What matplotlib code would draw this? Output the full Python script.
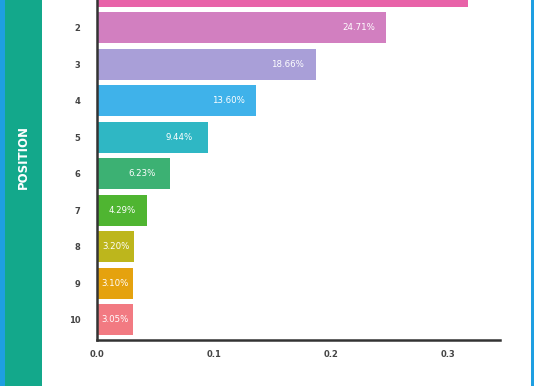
import matplotlib
matplotlib.use("Agg")
import matplotlib.pyplot as plt
from matplotlib.patches import Rectangle

# positions 1..10 and their share
positions = [1, 2, 3, 4, 5, 6, 7, 8, 9, 10]
shares = [0.3167, 0.2471, 0.1866, 0.1360, 0.0944, 0.0623, 0.0429, 0.0320, 0.0310, 0.0305]
labels = ["31.67%", "24.71%", "18.66%", "13.60%", "9.44%", "6.23%", "4.29%", "3.20%", "3.10%", "3.05%"]
colors = ["#e862a8", "#d27fc0", "#a99fd8", "#3fb2ea", "#2fb7c4",
          "#3cb173", "#4fb531", "#bdb61c", "#e5a20e", "#f27a82"]
xticks = [0.0, 0.1, 0.2, 0.3]

YLIM = (10.55, 1.233)   # the top bar is cut by the crop

fig = plt.figure(figsize=(5.36, 3.86), dpi=100)
fig.patch.set_facecolor("white")

# side decoration: blue strip, teal band with vertical title, blue line on the right
fig.add_artist(Rectangle((0, 0), 5 / 536, 1, transform=fig.transFigure,
                         facecolor="#1e9fe2", edgecolor="none"))
fig.add_artist(Rectangle((5 / 536, 0), 37 / 536, 1, transform=fig.transFigure,
                         facecolor="#13a88b", edgecolor="none"))
fig.add_artist(Rectangle((531 / 536, 0), 3 / 536, 1, transform=fig.transFigure,
                         facecolor="#1e9fe2", edgecolor="none"))
fig.text(23 / 536, 1 - 157 / 386, "POSITION", rotation=90, color="white",
         fontsize=8.5, fontweight="bold", ha="center", va="center")

ax = fig.add_axes([97 / 536, 46 / 386, 403 / 536, 340 / 386])
ax.barh(positions, shares, height=0.85, color=colors)
for p, v, lab in zip(positions, shares, labels):
    if p < YLIM[1] + 0.3:
        continue  # label of the cropped bar is outside the picture
    ax.text(max(v - 0.024, v / 2), p, lab, color="white", fontsize=6.2,
            ha="center", va="center")

ax.set_yticks(positions[1:])
ax.set_xticks(xticks)
ax.set_xticklabels([f"{t:.1f}" for t in xticks])
ax.set_xlim(0, 0.344)
ax.set_ylim(*YLIM)
ax.tick_params(length=0, labelsize=6, labelcolor="#444444")
ax.tick_params(axis="x", pad=7)
ax.tick_params(axis="y", pad=12)
for lab in ax.get_xticklabels() + ax.get_yticklabels():
    lab.set_fontweight("bold")
for side in ("top", "right"):
    ax.spines[side].set_visible(False)
for side in ("left", "bottom"):
    ax.spines[side].set_color("#333333")
    ax.spines[side].set_linewidth(1.8)

fig.savefig("out.png", dpi=100)
